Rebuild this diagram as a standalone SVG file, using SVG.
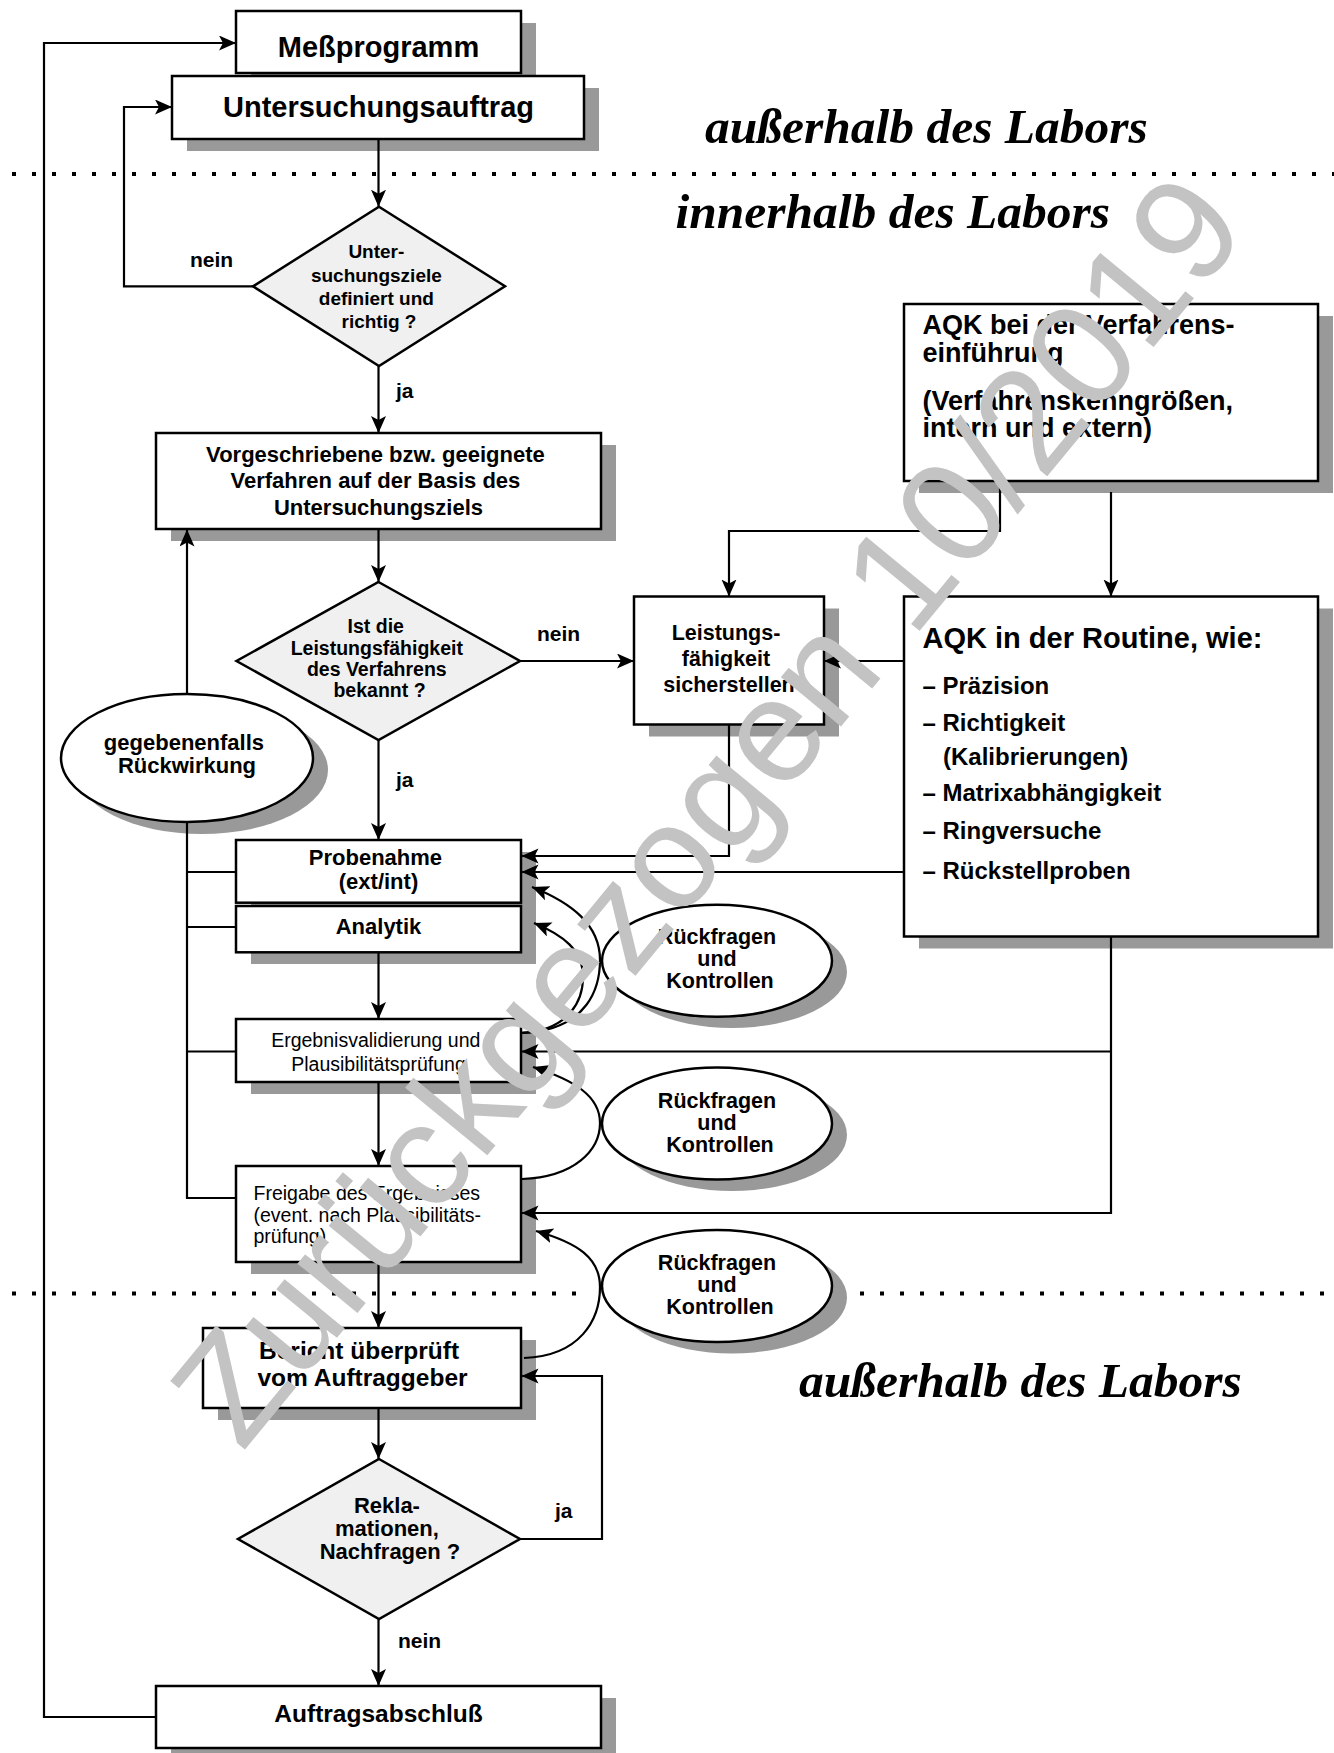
<svg xmlns="http://www.w3.org/2000/svg" width="1334" height="1753" viewBox="0 0 1334 1753">
<defs>
<style>
.box{fill:#fff;stroke:#000;stroke-width:2.5}
.sh{fill:#999}
.dia{fill:#f0f0f0;stroke:#000;stroke-width:2.5}
.ln{fill:none;stroke:#000;stroke-width:2.2}
.arr{marker-end:url(#ah)}
.b{font-family:"Liberation Sans",Arial,sans-serif;font-weight:bold;fill:#000}
.r{font-family:"Liberation Sans",Arial,sans-serif;fill:#000}
.c{text-anchor:middle}
.it{font-family:"Liberation Serif","Times New Roman",serif;font-weight:bold;font-style:italic;font-size:49.5px;fill:#000}
.dot{stroke:#000;stroke-width:4;stroke-dasharray:4 16;fill:none}
.wm{font-family:"Liberation Sans",Arial,sans-serif;font-size:147px;fill:#c3c3c3}
</style>
<marker id="ah" markerUnits="userSpaceOnUse" markerWidth="18" markerHeight="16" viewBox="0 0 18 16" refX="17" refY="7.5" orient="auto">
<path d="M0,0 L17,7.5 L0,15 L4,7.5 z" fill="#000"/>
</marker>
</defs>
<rect width="1334" height="1753" fill="#fff"/>

<g id="zones">
<line class="dot" x1="12" y1="174" x2="1334" y2="174"/>
<line class="dot" x1="12" y1="1293.5" x2="582" y2="1293.5"/>
<line class="dot" x1="860" y1="1293.5" x2="1334" y2="1293.5"/>
<text class="it" x="705" y="143">außerhalb des Labors</text>
<text class="it" x="675.5" y="228">innerhalb des Labors</text>
<text class="it" x="799" y="1396.5">außerhalb des Labors</text>
</g>

<g id="n-messprogramm">
<rect class="sh" x="251" y="23" width="285" height="62"/>
<rect class="box" x="236" y="11" width="285" height="62"/>
<text class="b c" x="378.5" y="56.5" font-size="29">Meßprogramm</text>
</g>
<g id="n-auftrag">
<rect class="sh" x="187" y="88" width="412" height="63"/>
<rect class="box" x="172" y="76" width="412" height="63"/>
<text class="b c" x="378.5" y="116.7" font-size="29">Untersuchungsauftrag</text>
</g>
<g id="n-ziele">
<polygon class="dia" points="379,206.7 505,286.3 379,366 253,286.3"/>
<text class="b c" font-size="19">
<tspan x="379" y="258.3">Unter-</tspan>
<tspan x="379" y="281.7">suchungsziele</tspan>
<tspan x="379" y="305">definiert und</tspan>
<tspan x="379" y="328.3">richtig ?</tspan>
</text>
</g>
<g id="n-verfahren">
<rect class="sh" x="171" y="445" width="445" height="96"/>
<rect class="box" x="156" y="433" width="445" height="96"/>
<text class="b c" font-size="22">
<tspan x="378.5" y="461.7">Vorgeschriebene bzw. geeignete</tspan>
<tspan x="378.5" y="488.3">Verfahren auf der Basis des</tspan>
<tspan x="378.5" y="515">Untersuchungsziels</tspan>
</text>
</g>
<g id="n-aqk1">
<rect class="sh" x="919" y="316" width="414" height="177"/>
<rect class="box" x="904" y="304" width="414" height="177"/>
<text class="b" font-size="27">
<tspan x="922.5" y="334.3">AQK bei der Verfahrens-</tspan>
<tspan x="922.5" y="361.7">einführung</tspan>
<tspan x="922.5" y="410">(Verfahrenskenngrößen,</tspan>
<tspan x="922.5" y="436.7">intern und extern)</tspan>
</text>
</g>
<g id="n-leistung-frage">
<polygon class="dia" points="378.5,582 520,661 378.5,740 236.5,661"/>
<text class="b c" font-size="19.5">
<tspan x="378.5" y="633.3">Ist die</tspan>
<tspan x="379.5" y="655">Leistungsfähigkeit</tspan>
<tspan x="379.5" y="676">des Verfahrens</tspan>
<tspan x="379.5" y="696.7">bekannt ?</tspan>
</text>
</g>
<g id="n-leistung">
<rect class="sh" x="649" y="608.5" width="190" height="128"/>
<rect class="box" x="634" y="596.5" width="190" height="128"/>
<text class="b c" font-size="21.5">
<tspan x="729" y="640">Leistungs-</tspan>
<tspan x="729" y="666">fähigkeit</tspan>
<tspan x="729" y="692">sicherstellen</tspan>
</text>
</g>
<g id="n-aqk2">
<rect class="sh" x="919" y="608.5" width="414" height="340"/>
<rect class="box" x="904" y="596.5" width="414" height="340"/>
<text class="b" x="922.5" y="648" font-size="29">AQK in der Routine, wie:</text>
<text class="b" font-size="24">
<tspan x="922.5" y="694">– Präzision</tspan>
<tspan x="922.5" y="731">– Richtigkeit</tspan>
<tspan x="943" y="765">(Kalibrierungen)</tspan>
<tspan x="922.5" y="801">– Matrixabhängigkeit</tspan>
<tspan x="922.5" y="839">– Ringversuche</tspan>
<tspan x="922.5" y="878.5">– Rückstellproben</tspan>
</text>
</g>
<g id="n-rueckwirkung">
<ellipse class="sh" cx="202" cy="770" rx="126" ry="64"/>
<ellipse class="box" cx="187" cy="758" rx="126" ry="64"/>
<text class="b c" font-size="22">
<tspan x="187" y="750">gegebenenfalls</tspan>
<tspan x="187" y="773">Rückwirkung</tspan>
</text>
</g>
<g id="n-probenahme">
<rect class="sh" x="251" y="852" width="285" height="112"/>
<rect class="box" x="236" y="840" width="285" height="62.7"/>
<rect class="box" x="236" y="906" width="285" height="46.3"/>
<text class="b c" font-size="22">
<tspan x="378.5" y="865">Probenahme</tspan>
<tspan x="378.5" y="889">(ext/int)</tspan>
</text>
<text class="b c" x="378.5" y="934" font-size="22">Analytik</text>
</g>
<g id="n-ergebnis">
<rect class="sh" x="251" y="1031" width="285" height="63"/>
<rect class="box" x="236" y="1019" width="285" height="63"/>
<text class="r c" font-size="19.5">
<tspan x="378.5" y="1046.7">Ergebnisvalidierung und</tspan>
<tspan x="378.5" y="1070.7">Plausibilitätsprüfung</tspan>
</text>
</g>
<g id="n-freigabe">
<rect class="sh" x="251" y="1178" width="285" height="96"/>
<rect class="box" x="236" y="1166" width="285" height="96"/>
<text class="r" font-size="19.5">
<tspan x="253.5" y="1200">Freigabe des Ergebnisses</tspan>
<tspan x="253.5" y="1221.7">(event. nach Plausibilitäts-</tspan>
<tspan x="253.5" y="1243.3">prüfung)</tspan>
</text>
</g>
<g id="n-rk1">
<ellipse class="sh" cx="732" cy="972" rx="115" ry="56"/>
<ellipse class="box" cx="717" cy="960.8" rx="115" ry="56"/>
<text class="b c" font-size="21.5">
<tspan x="720" y="944">Rückfragen</tspan>
<tspan x="720" y="966">und</tspan>
<tspan x="720" y="988">Kontrollen</tspan>
</text>
</g>
<g id="n-rk2">
<ellipse class="sh" cx="732" cy="1135" rx="115" ry="56"/>
<ellipse class="box" cx="717" cy="1123.5" rx="115" ry="56"/>
<text class="b c" font-size="21.5">
<tspan x="720" y="1107.5">Rückfragen</tspan>
<tspan x="720" y="1129.5">und</tspan>
<tspan x="720" y="1151.5">Kontrollen</tspan>
</text>
</g>
<g id="n-rk3">
<ellipse class="sh" cx="732" cy="1297.5" rx="115" ry="56"/>
<ellipse class="box" cx="717" cy="1286" rx="115" ry="56"/>
<text class="b c" font-size="21.5">
<tspan x="720" y="1269.5">Rückfragen</tspan>
<tspan x="720" y="1291.5">und</tspan>
<tspan x="720" y="1313.5">Kontrollen</tspan>
</text>
</g>
<g id="n-bericht">
<rect class="sh" x="218" y="1340" width="318" height="80"/>
<rect class="box" x="203" y="1328" width="318" height="80"/>
<text class="b c" font-size="24.5">
<tspan x="362.5" y="1359.3">Bericht überprüft</tspan>
<tspan x="362.5" y="1386">vom Auftraggeber</tspan>
</text>
</g>
<g id="n-reklamation">
<polygon class="dia" points="379,1459 520,1539 379,1619 238,1539"/>
<text class="b c" font-size="22">
<tspan x="390" y="1513">Rekla-</tspan>
<tspan x="390" y="1536">mationen,</tspan>
<tspan x="390" y="1559">Nachfragen ?</tspan>
</text>
</g>
<g id="n-abschluss">
<rect class="sh" x="171" y="1698" width="445" height="62"/>
<rect class="box" x="156" y="1686" width="445" height="62"/>
<text class="b c" x="378.5" y="1721.7" font-size="24.5">Auftragsabschluß</text>
</g>

<g id="connectors">
<path class="ln arr" d="M156,1717 H44 V43 H236"/>
<path class="ln arr" d="M253,286.3 H124 V107 H172"/>
<path class="ln arr" d="M378.5,139 V206.7"/>
<path class="ln arr" d="M378.5,366 V433"/>
<path class="ln arr" d="M378.5,529 V582"/>
<path class="ln arr" d="M378.5,740 V840"/>
<path class="ln arr" d="M378.5,952.3 V1019"/>
<path class="ln arr" d="M378.5,1082 V1166"/>
<path class="ln arr" d="M378.5,1262 V1328"/>
<path class="ln arr" d="M378.5,1408 V1459"/>
<path class="ln arr" d="M378.5,1619 V1686"/>
<path class="ln arr" d="M520,661 H634"/>
<path class="ln arr" d="M904,661 H824"/>
<path class="ln arr" d="M1000,481 V531 H729 V596.5"/>
<path class="ln arr" d="M1111,492 V596.5"/>
<path class="ln arr" d="M729,724.5 V856 H521.5"/>
<path class="ln arr" d="M904,872 H521.5"/>
<path class="ln arr" d="M1111,936.5 V1213 H521.5"/>
<path class="ln arr" d="M1111,1051.5 H521.5"/>
<path class="ln" d="M187,822 V1198 H236 M187,872 H236 M187,927 H236 M187,1051.5 H236"/>
<path class="ln arr" d="M187,694 V529.5"/>
<path class="ln arr" d="M520,1539 H602 V1376 H521.5"/>
<path class="ln arr" d="M522,1033 C590,1030 600,985 600,960 C600,925 572,903 532,887"/>
<path class="ln arr" d="M522,1033 C570,1030 583,1000 583,977 C583,950 563,935 534,923"/>
<path class="ln arr" d="M522,1179 C575,1177 600,1150 600,1123 C600,1096 574,1080 533,1067"/>
<path class="ln arr" d="M524,1358 C580,1356 600,1320 600,1287 C600,1258 578,1243 536,1231"/>
</g>

<g id="labels">
<text class="b" x="190" y="266.7" font-size="21">nein</text>
<text class="b" x="396" y="398" font-size="21">ja</text>
<text class="b" x="537" y="641" font-size="21">nein</text>
<text class="b" x="396" y="786.7" font-size="21">ja</text>
<text class="b" x="555" y="1518" font-size="21">ja</text>
<text class="b" x="398" y="1648" font-size="21">nein</text>
</g>

<g id="watermark">
<text class="wm" x="242" y="1453" transform="rotate(-50.5 242 1453)">Zurückgezogen 10/2019</text>
</g>
</svg>
